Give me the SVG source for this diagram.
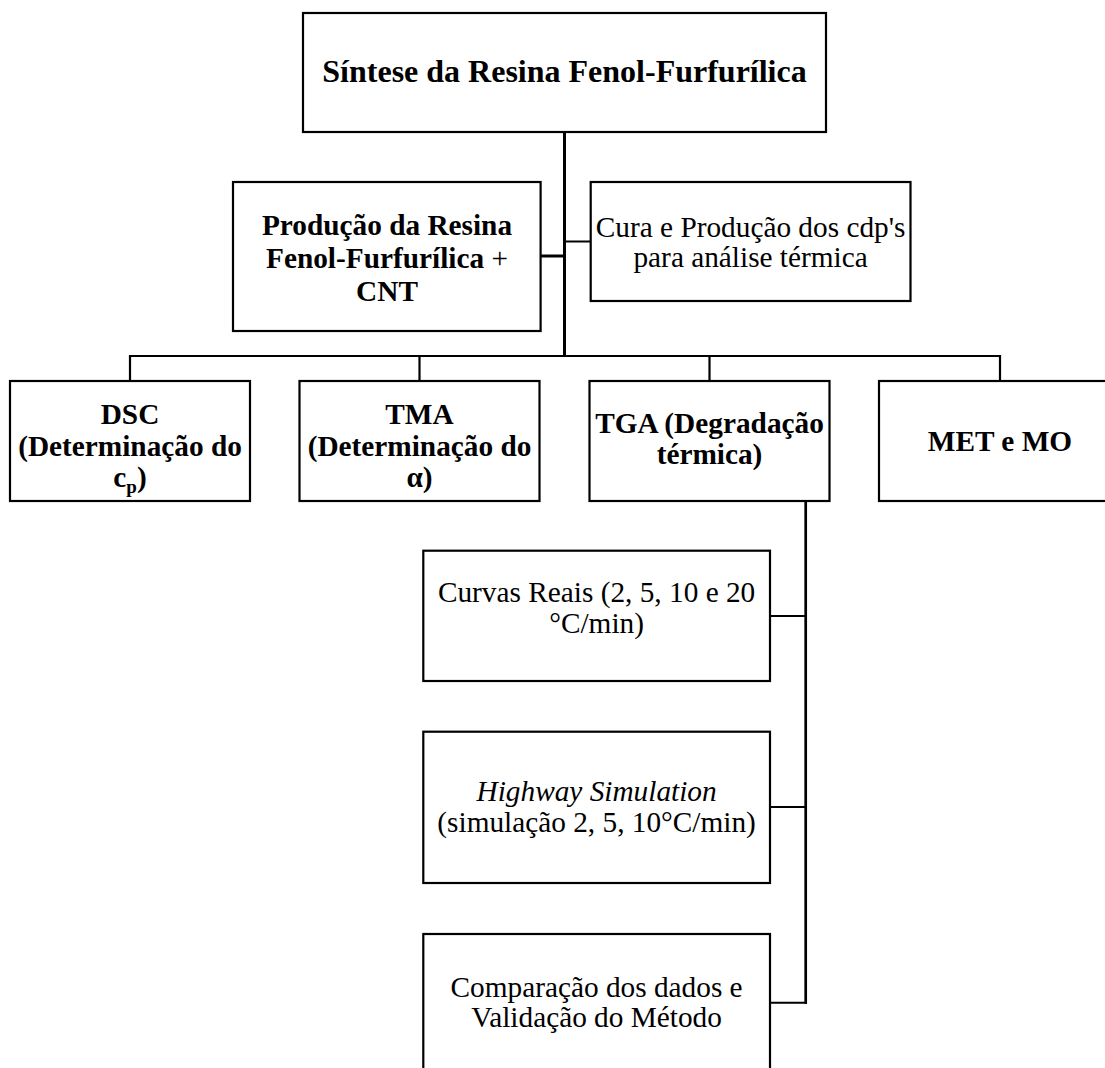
<svg xmlns="http://www.w3.org/2000/svg" width="1105" height="1068" viewBox="0 0 1105 1068">
<style>
  .box { fill: #ffffff; stroke: #000000; stroke-width: 2.2; }
  .t { font-family: "Liberation Serif", "Times New Roman", serif; font-size: 29.3px; fill: #000000; text-anchor: middle; }
  .b { font-weight: bold; }
  .title { font-size: 32px; }
  .ln { fill: none; stroke: #000000; stroke-width: 2.2; }
  .thick { stroke-width: 3; }
  .thin { stroke-width: 2; }
</style>
<rect width="1105" height="1068" fill="#ffffff"/>
<g id="connectors">
  <line class="ln thick" x1="564.5" y1="132" x2="564.5" y2="357"/>
  <line class="ln thick" x1="540.6" y1="256" x2="564.5" y2="256"/>
  <line class="ln thin" x1="564.5" y1="241.5" x2="590.7" y2="241.5"/>
  <polyline class="ln" points="130,381 130,356 1000,356 1000,381"/>
  <line class="ln" x1="419.5" y1="356" x2="419.5" y2="381"/>
  <line class="ln" x1="709.5" y1="356" x2="709.5" y2="381"/>
  <line class="ln" x1="805.7" y1="501" x2="805.7" y2="1003.7" style="stroke-width:2.7"/>
  <line class="ln thin" x1="770" y1="616" x2="805.7" y2="616"/>
  <line class="ln thin" x1="770" y1="807" x2="805.7" y2="807"/>
  <line class="ln thin" x1="770" y1="1002.7" x2="807" y2="1002.7"/>
</g>
<g id="sintese">
  <rect class="box" x="303" y="13" width="523" height="119"/>
  <text class="t b title" x="564.5" y="82">Síntese da Resina Fenol-Furfurílica</text>
</g>
<g id="producao">
  <rect class="box" x="233" y="182" width="307.6" height="149"/>
  <text class="t b" x="387" y="235">Produção da Resina</text>
  <text class="t b" x="387" y="268">Fenol-Furfurílica <tspan font-weight="normal">+</tspan></text>
  <text class="t b" x="387" y="301">CNT</text>
</g>
<g id="cura">
  <rect class="box" x="590.7" y="182" width="319.8" height="119"/>
  <text class="t" x="750.6" y="236.5">Cura e Produção dos cdp's</text>
  <text class="t" x="750.6" y="267">para análise térmica</text>
</g>
<g id="dsc">
  <rect class="box" x="10" y="381" width="240" height="120"/>
  <text class="t b" x="130" y="424">DSC</text>
  <text class="t b" x="130" y="455.5">(Determinação do</text>
  <text class="t b" x="130" y="487">c<tspan font-size="19" dy="6">p</tspan><tspan dy="-6">)</tspan></text>
</g>
<g id="tma">
  <rect class="box" x="299.5" y="381" width="240" height="120"/>
  <text class="t b" x="419.5" y="424">TMA</text>
  <text class="t b" x="419.5" y="455.5">(Determinação do</text>
  <text class="t b" x="419.5" y="487">α)</text>
</g>
<g id="tga">
  <rect class="box" x="589.5" y="381" width="240" height="120"/>
  <text class="t b" x="709.5" y="433">TGA (Degradação</text>
  <text class="t b" x="709.5" y="464">térmica)</text>
</g>
<g id="met">
  <rect class="box" x="879" y="381" width="242" height="120"/>
  <text class="t b" x="1000" y="451">MET e MO</text>
</g>
<g id="curvas">
  <rect class="box" x="423.3" y="550.7" width="346.7" height="130.3"/>
  <text class="t" x="596.6" y="602">Curvas Reais (2, 5, 10 e 20</text>
  <text class="t" x="596.6" y="633">°C/min)</text>
</g>
<g id="highway">
  <rect class="box" x="423.3" y="731.7" width="346.7" height="151.3"/>
  <text class="t" x="596.6" y="801" font-style="italic">Highway Simulation</text>
  <text class="t" x="596.6" y="832">(simulação 2, 5, 10°C/min)</text>
</g>
<g id="comparacao">
  <rect class="box" x="423.3" y="934" width="346.7" height="140"/>
  <text class="t" x="596.6" y="997">Comparação dos dados e</text>
  <text class="t" x="596.6" y="1027">Validação do Método</text>
</g>
</svg>
